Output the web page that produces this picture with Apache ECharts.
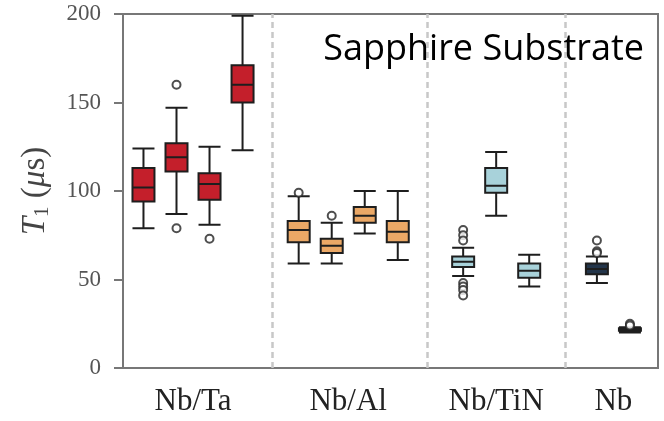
<!DOCTYPE html>
<html>
<head>
<meta charset="utf-8">
<script src="https://cdn.jsdelivr.net/npm/echarts@6/dist/echarts.min.js"></script>
<style>
  html, body { margin: 0; padding: 0; background: #fff; }
  #main { width: 664px; height: 421px; }
</style>
</head>
<body>
<div id="main"></div>
<script>
// groups along x, in box-slot units (one slot = spacing between two boxes)
const groups = ["Nb/Ta", "Nb/Al", "Nb/TiN", "Nb"]
const groupCenters = [2.12, 6.82, 11.3, 14.85]
const separators = [4.52, 9.21, 13.39]
const groupColors = ["#c41f2b", "#eba866", "#a8d2da", "#23354a"]

// five-number summaries per box: min, Q1, median, Q3, max  (T1 in us)
const nbTaBoxes = [[79, 94, 102, 113, 124], [87, 111, 119, 127, 147], [81, 95, 104, 110, 125], [123, 150, 160, 171, 199]]
const nbAlBoxes = [[59, 71, 78, 83, 97], [59, 65, 69, 73, 82], [76, 82, 86, 91, 100], [61, 71, 77, 83, 100]]
const nbTiNBoxes = [[52, 57, 60, 63, 68], [86, 99, 103, 113, 122], [46, 51, 55, 59, 64]]
const nbBoxes = [[48, 53, 56, 59, 63], [20, 21, 21.5, 22.5, 23]]

// outliers per box
const nbTaOutliers = [[], [160, 79], [73], []]
const nbAlOutliers = [[99], [86], [], []]
const nbTiNOutliers = [[78, 75, 72, 48, 46, 44, 41], [], []]
const nbOutliers = [[72, 66, 65], [25, 24]]

const yTicks = [0, 50, 100, 150, 200]

const allBoxes = [nbTaBoxes, nbAlBoxes, nbTiNBoxes, nbBoxes]
const allOutliers = [nbTaOutliers, nbAlOutliers, nbTiNOutliers, nbOutliers]

let boxData = []
let outlierData = []
for (let g = 0; g < allBoxes.length; g++) {
  let boxes = allBoxes[g]
  let n = boxes.length
  for (let i = 0; i < n; i++) {
    let x = groupCenters[g] + (i - (n - 1) / 2)
    boxData.push({
      value: [x].concat(boxes[i]),
      itemStyle: { color: groupColors[g] }
    })
    let outs = allOutliers[g][i]
    for (let k = 0; k < outs.length; k++) {
      outlierData.push([x, outs[k]])
    }
  }
}

let myChart = echarts.init(document.getElementById("main"))
let option = {
  animation: false,
  title: {
    text: "Sapphire Substrate",
    right: 20,
    top: 32,
    padding: 0,
    textStyle: {
      fontFamily: "Open Sans",
      fontWeight: "normal",
      fontSize: 36,
      color: "#000"
    }
  },
  grid: {
    left: 123,
    right: 6,
    top: 14,
    bottom: 53,
    containLabel: false,
    show: true,
    borderColor: "#777",
    borderWidth: 2
  },
  xAxis: {
    type: "value",
    min: 0,
    max: 16.2,
    splitLine: { show: false },
    axisTick: { show: false },
    axisLine: { show: true, lineStyle: { color: "#777", width: 2 } },
    axisLabel: {
      customValues: groupCenters,
      formatter: function (v) {
        let idx = groupCenters.indexOf(v)
        return idx >= 0 ? groups[idx] : ""
      },
      margin: 18,
      fontFamily: "Liberation Serif",
      fontSize: 31,
      color: "#222"
    }
  },
  yAxis: {
    type: "value",
    min: yTicks[0],
    max: yTicks[yTicks.length - 1],
    interval: 50,
    splitLine: { show: false },
    axisLine: { show: true, lineStyle: { color: "#777", width: 2 } },
    axisTick: { show: true, length: 9, lineStyle: { color: "#777", width: 2 } },
    axisLabel: {
      margin: 22,
      fontFamily: "Liberation Serif",
      fontSize: 23,
      color: "#555"
    },
    name: "{i|T}{sub|1} ({i|\u03bc}s)",
    nameLocation: "middle",
    nameRotate: 90,
    nameGap: 70,
    nameTextStyle: {
      fontFamily: "Liberation Serif",
      fontSize: 33,
      color: "#444",
      rich: {
        i: { fontFamily: "Liberation Serif", fontStyle: "italic", fontSize: 33, color: "#444" },
        sub: { fontFamily: "Liberation Serif", fontSize: 21, color: "#444", verticalAlign: "bottom", padding: [14, 0, 0, 0] }
      }
    }
  },
  series: [
    {
      type: "boxplot",
      boxWidth: [22, 22],
      itemStyle: {
        borderColor: "#1e1e1e",
        borderWidth: 2
      },
      data: boxData
    },
    {
      type: "scatter",
      symbol: "emptyCircle",
      symbolSize: 8,
      itemStyle: { color: "#222", borderWidth: 2 },
      data: outlierData,
      markLine: {
        silent: true,
        symbol: "none",
        label: { show: false },
        lineStyle: { color: "#c8c8c8", width: 2.5, type: [6, 4] },
        data: separators.map(function (s) { return { xAxis: s } })
      }
    }
  ]
}
myChart.setOption(option)
</script>
</body>
</html>
